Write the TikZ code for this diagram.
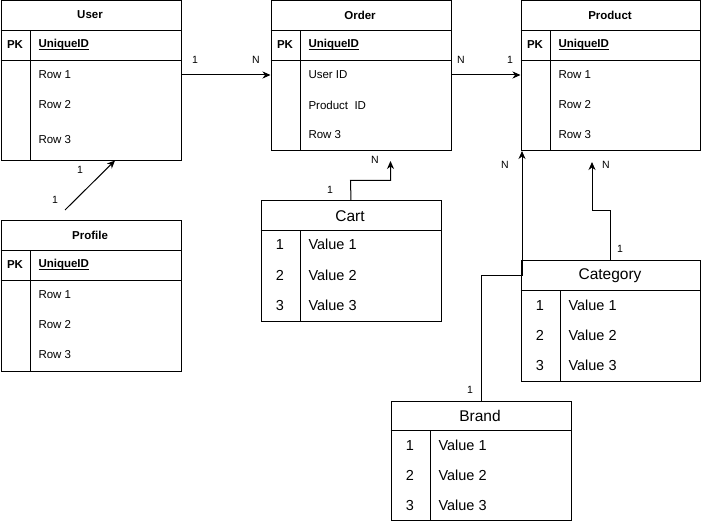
\documentclass[tikz,border=0pt]{standalone}
\usepackage{fontspec}
\setmainfont{Liberation Sans}
\usetikzlibrary{arrows.meta,calc}
\newcommand\myul[1]{\setbox0\hbox{#1}\rlap{\rule[-1.8pt]{\wd0}{0.8pt}}\box0}
\begin{document}
\begin{tikzpicture}[x=1pt,y=-1pt,line width=1pt,
  tbl/.style={draw,anchor=north west,inner sep=0pt},
  hdr/.style={font=\fontsize{11.5}{13}\selectfont\bfseries},
  bighdr/.style={font=\fontsize{15.5}{17}\selectfont},
  pk/.style={font=\fontsize{11.5}{13}\selectfont\bfseries},
  uid/.style={anchor=west,inner sep=0pt,font=\fontsize{11.5}{13}\selectfont\bfseries},
  rowtxt/.style={anchor=west,inner sep=0pt,font=\fontsize{11.5}{13}\selectfont},
  numtxt/.style={anchor=base,inner sep=0pt,font=\fontsize{14.5}{16}\selectfont},
  valtxt/.style={anchor=base west,inner sep=0pt,font=\fontsize{14.5}{16}\selectfont},
  lbl/.style={inner sep=0pt,font=\fontsize{10.5}{12}\selectfont},
  arr/.style={-{Stealth[length=8pt,width=7pt,inset=2.5pt]},line width=1pt}]
\useasboundingbox (0,0) rectangle (701,521);
% ---------- User ----------
\node[tbl,minimum width=180pt,minimum height=160pt] (user) at (0.5,0.5) {};
\draw (0.5,30.5) -- (180.5,30.5) (0.5,60.5) -- (180.5,60.5) (30.5,30.5) -- (30.5,160.5);
\node[hdr] (userT) at (90,15) {User};
\node[pk] (userPK) at (15,45) {PK};
\node[uid] (userID) at (38,45) {\myul{UniqueID}};
\node[rowtxt] (urow1) at (38,75) {Row 1};
\node[rowtxt] (urow2) at (38,105) {Row 2};
\node[rowtxt] (urow3) at (38,140) {Row 3};
% ---------- Order ----------
\node[tbl,minimum width=180pt,minimum height=150pt] (order) at (270.5,0.5) {};
\draw (270.5,30.5) -- (450.5,30.5) (270.5,60.5) -- (450.5,60.5) (300.5,30.5) -- (300.5,150.5);
\node[hdr] (orderT) at (360,15) {Order};
\node[pk] (orderPK) at (285,45) {PK};
\node[uid] (orderID) at (308,45) {\myul{UniqueID}};
\node[rowtxt] (orow1) at (308,75) {User ID};
\node[rowtxt] (orow2) at (308,105) {Product\ \ ID};
\node[rowtxt] (orow3) at (308,135) {Row 3};
% ---------- Product ----------
\node[tbl,minimum width=179pt,minimum height=150pt] (product) at (520.5,0.5) {};
\draw (520.5,30.5) -- (699.5,30.5) (520.5,60.5) -- (699.5,60.5) (550.5,30.5) -- (550.5,150.5);
\node[hdr] (productT) at (610,15) {Product};
\node[pk] (productPK) at (535,45) {PK};
\node[uid] (productID) at (558,45) {\myul{UniqueID}};
\node[rowtxt] (prow1) at (558,75) {Row 1};
\node[rowtxt] (prow2) at (558,105) {Row 2};
\node[rowtxt] (prow3) at (558,135) {Row 3};
% ---------- Profile ----------
\node[tbl,minimum width=180pt,minimum height=150pt] (profile) at (0.5,220.5) {};
\draw (0.5,250.5) -- (180.5,250.5) (0.5,280.5) -- (180.5,280.5) (30.5,250.5) -- (30.5,370.5);
\node[hdr] (profileT) at (90,235) {Profile};
\node[pk] (profilePK) at (15,265) {PK};
\node[uid] (profileID) at (38,265) {\myul{UniqueID}};
\node[rowtxt] (frow1) at (38,295) {Row 1};
\node[rowtxt] (frow2) at (38,325) {Row 2};
\node[rowtxt] (frow3) at (38,355) {Row 3};
% ---------- Cart ----------
\node[tbl,minimum width=180pt,minimum height=120pt] (cart) at (260.5,200.5) {};
\draw (260.5,230.5) -- (440.5,230.5) (300.5,230.5) -- (300.5,320.5);
\node[bighdr] (cartT) at (350,216) {Cart};
\node[numtxt] (cn1) at (280,250) {1};
\node[numtxt] (cn2) at (280,280) {2};
\node[numtxt] (cn3) at (280,310) {3};
\node[valtxt] (cv1) at (308,250) {Value 1};
\node[valtxt] (cv2) at (308,280) {Value 2};
\node[valtxt] (cv3) at (308,310) {Value 3};
% ---------- Category ----------
\node[tbl,minimum width=179pt,minimum height=120pt] (category) at (520.5,260.5) {};
\draw (520.5,290.5) -- (699.5,290.5) (560.5,290.5) -- (560.5,380.5);
\node[bighdr] (categoryT) at (610,276) {Category};
\node[numtxt] (gn1) at (540,310) {1};
\node[numtxt] (gn2) at (540,340) {2};
\node[numtxt] (gn3) at (540,370) {3};
\node[valtxt] (gv1) at (568,310) {Value 1};
\node[valtxt] (gv2) at (568,340) {Value 2};
\node[valtxt] (gv3) at (568,370) {Value 3};
% ---------- Brand ----------
\node[tbl,minimum width=180pt,minimum height=119pt] (brand) at (390.5,400.5) {};
\draw (390.5,430.5) -- (570.5,430.5) (430.5,430.5) -- (430.5,519.5);
\node[bighdr] (brandT) at (480,416) {Brand};
\node[numtxt] (bn1) at (410,450) {1};
\node[numtxt] (bn2) at (410,480) {2};
\node[numtxt] (bn3) at (410,510) {3};
\node[valtxt] (bv1) at (438,450) {Value 1};
\node[valtxt] (bv2) at (438,480) {Value 2};
\node[valtxt] (bv3) at (438,510) {Value 3};
% ---------- connectors ----------
\draw[arr] (user.east |- urow1) -- (order.west |- urow1);
\node[lbl] (l1) at (195,60) {1};
\node[lbl] (l2) at (256,60) {N};
\draw[arr] (order.east |- orow1) -- (product.west |- orow1);
\node[lbl] (l3) at (461,60) {N};
\node[lbl] (l4) at (510,60) {1};
\coordinate (profStart) at (65,210);
\coordinate (userEnd) at (115,160.5);
\draw[arr] (profStart) -- (userEnd);
\node[lbl] (l5) at (80,170) {1};
\node[lbl] (l6) at (55,200) {1};
\coordinate (cartBend) at (350.5,180.5);
\coordinate (cartEnd) at (390.5,161);
\draw[arr] (cart.north) -- (cartBend) -| (cartEnd);
\node[lbl] (l7) at (375,160) {N};
\node[lbl] (l8) at (330,190) {1};
\coordinate (brandBend) at (522,275.5);
\coordinate (brandEnd) at (522,151);
\draw[arr] (brand.north) |- (brandBend) -- (brandEnd);
\node[lbl] (l9) at (505,165) {N};
\node[lbl] (l10) at (470,390) {1};
\coordinate (catBend) at (610.5,210.5);
\coordinate (catEnd) at (592,162);
\draw[arr] (category.north) -- (catBend) -| (catEnd);
\node[lbl] (l11) at (606,165) {N};
\node[lbl] (l12) at (620,249) {1};
\end{tikzpicture}
\end{document}
